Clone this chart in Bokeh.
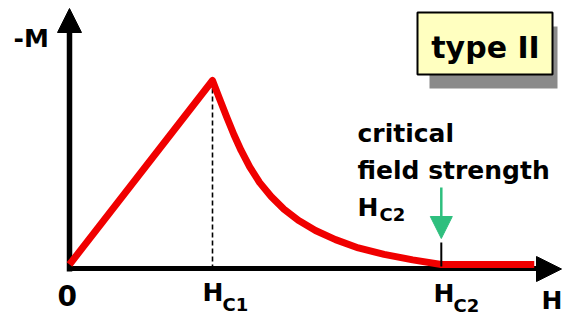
from bokeh.plotting import figure
from bokeh.models import Label, Range1d
from bokeh.embed import file_html
from bokeh.resources import INLINE

# ---- data (H in units of H_C1, -M in units of peak magnetisation) ----
H_curve = [0.0, 1.00, 1.05, 1.10, 1.15, 1.20, 1.26, 1.33, 1.41, 1.50, 1.60, 1.72, 1.86, 2.02, 2.20, 2.40, 2.60, 3.25]
M_curve = [0.0, 1.00, 0.90, 0.80, 0.705, 0.62, 0.53, 0.445, 0.37, 0.30, 0.24, 0.185, 0.135, 0.09, 0.055, 0.025, 0.0, 0.0]
H_C1 = 1.0
H_C2 = 2.6
M_peak = 1.0

# ---- layout helpers (reference pixel -> data units) ----
X0, SX = 69.0, 143.0
Y0, SY = 264.0, 184.0
def hx(px):
    return (px - X0) / SX
def my(py):
    return (Y0 - py) / SY

W, Hh = 563, 318
p = figure(width=W, height=Hh,
           x_range=Range1d(hx(0), hx(W)), y_range=Range1d(my(Hh), my(0)),
           output_backend="svg", toolbar_location=None,
           x_axis_location=None, y_axis_location=None,
           min_border=0, min_border_left=0, min_border_right=0,
           min_border_top=0, min_border_bottom=0)
p.grid.visible = False
p.outline_line_color = None
p.background_fill_color = "white"
p.border_fill_color = "white"

FONT = "DejaVu Sans"

# type II box with shadow
p.quad(left=[hx(429)], right=[hx(557)], top=[my(26)], bottom=[my(88)],
       fill_color="#8a8a8a", line_color=None)
p.quad(left=[hx(417)], right=[hx(552)], top=[my(12)], bottom=[my(74)],
       fill_color="#FFFFC0", line_color="black", line_width=2)

# dashed line at H_C1
p.line([H_C1, H_C1], [M_peak, my(266)], line_color="black", line_width=1.6, line_dash="5 3")

# axes
p.line([hx(69), hx(69)], [my(271), my(22)], line_color="black", line_width=5.5)
p.patch([hx(57), hx(81), hx(69)], [my(32), my(32), my(8)], fill_color="black", line_color="black")
p.line([hx(67), hx(540)], [my(268), my(268)], line_color="black", line_width=5)
p.patch([hx(536), hx(536), hx(561)], [my(256), my(281), my(268.5)], fill_color="black", line_color="black")

# magnetisation curve
p.line(H_curve, M_curve, line_color="#F00000", line_width=7, line_join="round")

# H_C2 tick
p.line([H_C2, H_C2], [my(242), my(266)], line_color="black", line_width=2)

# green arrow
GREEN = "#2EBF7E"
p.line([H_C2, H_C2], [my(187), my(220)], line_color=GREEN, line_width=2.5)
p.patch([H_C2 - 11 / SX, H_C2 + 11 / SX, H_C2], [my(216), my(216), my(238)],
        fill_color=GREEN, line_color=GREEN)

DY = -8
def lab(text, x, y, size, align="left"):
    p.add_layout(Label(x=hx(x), y=my(y + DY), text=text, text_font=FONT,
                       text_font_style="bold", text_font_size=f"{size}px",
                       text_color="black", text_align=align,
                       text_baseline="alphabetic"))

lab("type II", 485, 55, 30, "center")
lab("-M", 13, 46, 25)
lab("critical", 357, 141, 25)
lab("field strength", 357, 178, 25)
lab("H", 357, 215, 25)
lab("C2", 379, 222, 18)
lab("0", 57, 303, 28)
lab("H", 202, 300, 25)
lab("C1", 222, 312, 18)
lab("H", 433, 301, 25)
lab("C2", 453, 313, 18)
lab("H", 541, 308, 25)

open("out.html", "w").write(file_html(p, INLINE))
